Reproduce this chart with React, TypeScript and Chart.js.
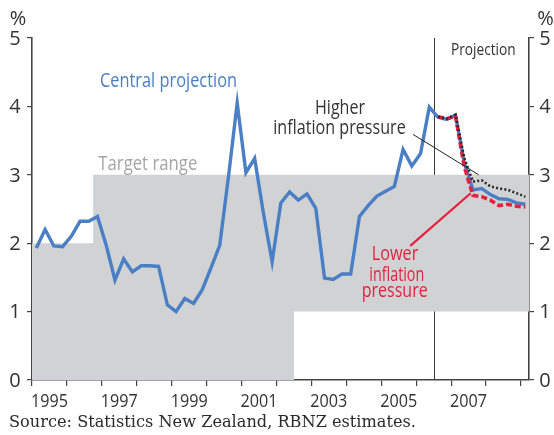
import { useEffect, useRef } from 'react';
import { Chart, registerables } from 'chart.js';

Chart.register(...registerables);

// ---- Data (annual CPI inflation, %, quarterly from 1995 Q1) ----
const firstYear = 1995;
const actualCPI = [
  1.93, 2.2, 1.96, 1.95, 2.1, 2.32, 2.32, 2.39,
  1.97, 1.46, 1.77, 1.58, 1.67, 1.67, 1.66, 1.1,
  1.0, 1.19, 1.12, 1.32, 1.64, 1.97, 2.97, 4.05,
  3.03, 3.24, 2.44, 1.73, 2.59, 2.75, 2.63, 2.72,
  2.51, 1.49, 1.47, 1.55, 1.55, 2.39, 2.55, 2.69,
  2.76, 2.83, 3.37, 3.13, 3.31, 3.99,
];
// projections from 2006 Q3 to 2009 Q1
const projectionStartIndex = 46;
const centralProjection = [3.84, 3.81, 3.87, 3.18, 2.78, 2.8, 2.71, 2.65, 2.64, 2.59, 2.57];
const higherPressure = [3.85, 3.82, 3.88, 3.25, 2.9, 2.92, 2.83, 2.8, 2.78, 2.73, 2.68];
const lowerPressure = [3.85, 3.82, 3.86, 3.12, 2.7, 2.68, 2.63, 2.55, 2.57, 2.54, 2.53];

const projectionBoundary = 2006.5;
const axisMinYear = 1995;
const axisMaxYear = 2009.23;
const targetUpper = [
  { x: 1995, y: 2 },
  { x: 1996.75, y: 3 },
  { x: 2009.23, y: 3 },
];
const targetLower = [
  { x: 1995, y: 0 },
  { x: 2002.5, y: 1 },
  { x: 2009.23, y: 1 },
];
const yearLabels = ['1995', '1997', '1999', '2001', '2003', '2005', '2007'];
const yTickValues = [0, 1, 2, 3, 4, 5];

// leader lines (data coordinates)
const higherLeader = [{ x: 2005.91, y: 3.59 }, { x: 2007.79, y: 3.0 }];
const lowerLeader = [{ x: 2005.83, y: 1.96 }, { x: 2007.56, y: 2.73 }];

const quarterX = (i: number) => firstYear + (i + 0.5) / 4;

const BLUE = '#4a7fc6';
const RED = '#e4203e';
const DARK = '#333333';
const GREY_TEXT = '#a4a4a4';
const BAND = '#d1d2d4';
const SANS = '"Open Sans", "DejaVu Sans", sans-serif';
const SERIF = '"DejaVu Serif", "Liberation Serif", serif';

function fitText(
  ctx: CanvasRenderingContext2D,
  text: string,
  left: number,
  baseline: number,
  font: string,
  color: string,
  width: number
) {
  ctx.save();
  ctx.font = font;
  ctx.fillStyle = color;
  ctx.textAlign = 'left';
  ctx.textBaseline = 'alphabetic';
  const w = ctx.measureText(text).width;
  ctx.translate(left, baseline);
  ctx.scale(width / w, 1);
  ctx.fillText(text, 0, 0);
  ctx.restore();
}

const overlayPlugin = {
  id: 'overlay',
  beforeDatasetsDraw(chart: any) {
    const { ctx, chartArea: a, scales } = chart;
    const px = Math.round(scales.x.getPixelForValue(projectionBoundary)) + 0.5;
    ctx.save();
    ctx.strokeStyle = '#3a3a3a';
    ctx.lineWidth = 1;
    ctx.beginPath();
    ctx.moveTo(px, a.top);
    ctx.lineTo(px, a.bottom);
    ctx.stroke();
    ctx.restore();
  },
  afterDatasetsDraw(chart: any) {
    const { ctx, scales } = chart;
    const { x, y } = scales;
    const line = (pts: { x: number; y: number }[], color: string, w: number) => {
      ctx.save();
      ctx.strokeStyle = color;
      ctx.lineWidth = w;
      ctx.beginPath();
      ctx.moveTo(x.getPixelForValue(pts[0].x), y.getPixelForValue(pts[0].y));
      ctx.lineTo(x.getPixelForValue(pts[1].x), y.getPixelForValue(pts[1].y));
      ctx.stroke();
      ctx.restore();
    };
    line(higherLeader, '#222222', 1);
    line(lowerLeader, RED, 2.2);
  },
  afterDraw(chart: any) {
    const { ctx, scales } = chart;
    const { x, y } = scales;
    // y tick labels, both sides
    ctx.save();
    ctx.font = `20px ${SANS}`;
    ctx.fillStyle = DARK;
    ctx.textAlign = 'center';
    ctx.textBaseline = 'middle';
    yTickValues.forEach((v) => {
      const py = y.getPixelForValue(v) + 1;
      ctx.fillText(String(v), 15, py);
      ctx.fillText(String(v), 545, py);
    });
    ctx.fillText('%', 18, 19);
    ctx.fillText('%', 545.5, 19);
    ctx.restore();
    // year labels centred in their year
    yearLabels.forEach((lab) => {
      const cx = x.getPixelForValue(Number(lab) + 0.5);
      fitText(ctx, lab, cx - 18.5, 406.5, `18.5px ${SANS}`, DARK, 37);
    });
    // annotations
    fitText(ctx, 'Central projection', 100, 87.3, `20px ${SANS}`, BLUE, 137);
    fitText(ctx, 'Target range', 98.3, 170, `19.5px ${SANS}`, GREY_TEXT, 99);
    fitText(ctx, 'Higher', 315, 114.3, `20px ${SANS}`, DARK, 50);
    fitText(ctx, 'inflation pressure', 273.3, 134.3, `20px ${SANS}`, DARK, 132.4);
    fitText(ctx, 'Projection', 451, 54.5, `16.5px ${SANS}`, DARK, 64.7);
    fitText(ctx, 'Lower', 371.7, 260, `19.5px ${SANS}`, RED, 46.6);
    fitText(ctx, 'inflation', 369.3, 280.7, `19.5px ${SANS}`, RED, 55);
    fitText(ctx, 'pressure', 361.7, 297, `19.5px ${SANS}`, RED, 66);
    fitText(ctx, 'Source: Statistics New Zealand, RBNZ estimates.', 9, 427.3, `17.5px ${SERIF}`, '#2a2a2a', 407);
  },
};

export default function App() {
  const canvasRef = useRef<HTMLCanvasElement | null>(null);

  useEffect(() => {
    if (!canvasRef.current) return;
    const centralData = [
      ...actualCPI.map((v, i) => ({ x: quarterX(i), y: v })),
      ...centralProjection.map((v, i) => ({ x: quarterX(projectionStartIndex + i), y: v })),
    ];
    const higherData = higherPressure.map((v, i) => ({ x: quarterX(projectionStartIndex + i), y: v }));
    const lowerData = lowerPressure.map((v, i) => ({ x: quarterX(projectionStartIndex + i), y: v }));

    const axisGrid = {
      drawOnChartArea: false,
      drawTicks: true,
      color: '#444444',
      lineWidth: 1.2,
    };

    const chart = new Chart(canvasRef.current, {
      type: 'line',
      data: {
        datasets: [
          {
            label: 'Higher inflation pressure',
            data: higherData,
            borderColor: '#2b2b2b',
            borderWidth: 2.6,
            borderDash: [2, 2.2],
            pointRadius: 0,
            fill: false,
            tension: 0,
          },
          {
            label: 'Lower inflation pressure',
            data: lowerData,
            borderColor: RED,
            borderWidth: 3.6,
            borderDash: [6, 3],
            pointRadius: 0,
            fill: false,
            tension: 0,
          },
          {
            label: 'Central projection',
            data: centralData,
            borderColor: BLUE,
            borderWidth: 3.4,
            pointRadius: 0,
            fill: false,
            tension: 0,
          },
          {
            label: 'Target upper',
            data: targetUpper,
            borderWidth: 0,
            borderColor: 'rgba(0,0,0,0)',
            backgroundColor: BAND,
            pointRadius: 0,
            stepped: 'before',
            fill: '+1',
          },
          {
            label: 'Target lower',
            data: targetLower,
            borderWidth: 0,
            borderColor: 'rgba(0,0,0,0)',
            backgroundColor: BAND,
            pointRadius: 0,
            stepped: 'before',
            fill: false,
          },
        ],
      },
      options: {
        responsive: false,
        animation: false,
        devicePixelRatio: 1,
        layout: { padding: { left: 0, right: 0, top: 38, bottom: 0 } },
        plugins: {
          legend: { display: false },
          tooltip: { enabled: false },
        },
        scales: {
          x: {
            type: 'linear',
            min: axisMinYear,
            max: axisMaxYear,
            ticks: { display: false, stepSize: 1, includeBounds: false },
            grid: { ...axisGrid, tickLength: 6 },
            border: { color: '#444444', width: 1.6 },
            afterFit: (s: any) => {
              s.height = 55;
            },
          },
          y: {
            position: 'left',
            min: 0,
            max: 5,
            ticks: { display: false, stepSize: 1 },
            grid: { ...axisGrid, tickLength: 5 },
            border: { color: '#444444', width: 1.6 },
            afterFit: (s: any) => {
              s.width = 32;
            },
          },
          y2: {
            position: 'right',
            min: 0,
            max: 5,
            ticks: { display: false, stepSize: 1 },
            grid: { ...axisGrid, tickLength: 5 },
            border: { color: '#444444', width: 1.6 },
            afterFit: (s: any) => {
              s.width = 25;
            },
          },
        },
      },
      plugins: [overlayPlugin],
    });
    return () => chart.destroy();
  }, []);

  return (
    <div style={{ position: 'absolute', left: 0, top: 0, width: 554, height: 435, background: '#fff' }}>
      <canvas ref={canvasRef} width={554} height={435} style={{ display: 'block' }} />
    </div>
  );
}
